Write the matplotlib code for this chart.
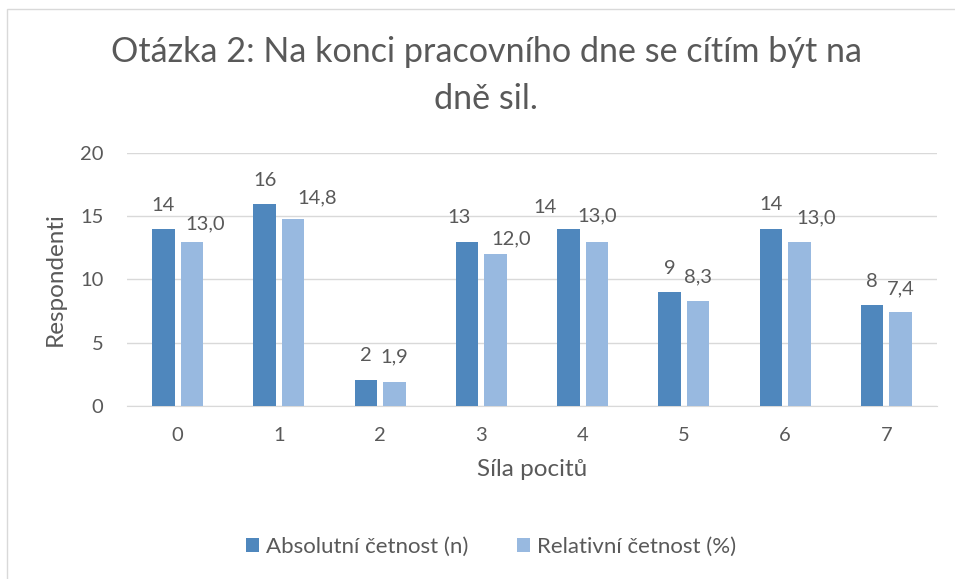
import matplotlib.pyplot as plt
import numpy as np
from matplotlib.patches import Rectangle

plt.rcParams['font.family'] = ['Lato', 'DejaVu Sans']

kategorie = ['0', '1', '2', '3', '4', '5', '6', '7']
absolutni = [14, 16, 2, 13, 14, 9, 14, 8]
relativni = [13.0, 14.8, 1.9, 12.0, 13.0, 8.3, 13.0, 7.4]

# label placement as in the original (pixels: shift right, gap above bar)
abs_dx = [0, 0, 0, -8.5, -23, 0, 0, 0]
abs_dy = [18, 18, 19, 19, 16, 18, 19, 18]
rel_dx = [13, 24, 0, 16, 0, 0, 16.5, 0]
rel_dy = [12, 16, 19, 10, 20, 19, 18, 18]

txt = '#595959'
c_abs = '#4F87BD'
c_rel = '#98B9E0'

fig = plt.figure(figsize=(9.55, 5.79), dpi=100)
fig.patches.append(Rectangle((7 / 955, -0.01), 1.0, 1 - 9 / 579 + 0.01,
                             transform=fig.transFigure, fill=False,
                             edgecolor='#D9D9D9', linewidth=1))
ax = fig.add_axes([127 / 955, 1 - 405.7 / 579, 810 / 955, 252.4 / 579])

x = np.arange(len(kategorie))
w = 0.222
off = 0.141
b1 = ax.bar(x - off, absolutni, w, color=c_abs, label='Absolutní četnost (n)', zorder=3)
b2 = ax.bar(x + off, relativni, w, color=c_rel, label='Relativní četnost (%)', zorder=3)

px = 0.72
for xi, v, dx, dy in zip(x, absolutni, abs_dx, abs_dy):
    ax.annotate(str(v), (xi - off, v), xytext=(dx * px, dy * px),
                textcoords='offset points', ha='center', va='baseline',
                fontsize=14.5, color=txt)
for xi, v, dx, dy in zip(x, relativni, rel_dx, rel_dy):
    ax.annotate(f'{v:.1f}'.replace('.', ','), (xi + off, v), xytext=(dx * px, dy * px),
                textcoords='offset points', ha='center', va='baseline',
                fontsize=14.5, color=txt)

ax.set_xlim(-0.5, 7.5)
ax.set_ylim(0, 20)
ax.set_yticks([0, 5, 10, 15, 20])
ax.set_xticks(x)
ax.set_xticklabels(kategorie)
ax.grid(axis='y', color='#D9D9D9', linewidth=1, zorder=0)
for s in ['top', 'right', 'left']:
    ax.spines[s].set_visible(False)
ax.spines['bottom'].set_color('#D9D9D9')
ax.tick_params(axis='both', length=0, labelsize=14.5, labelcolor=txt)
ax.tick_params(axis='y', pad=17)
ax.tick_params(axis='x', pad=15)

ax.set_xlabel('Síla pocitů', fontsize=17.5, color=txt, labelpad=11)
ax.set_ylabel('Respondenti', fontsize=17.5, color=txt, labelpad=10)

fig.text(0.509, 1 - 52 / 579, 'Otázka 2: Na konci pracovního dne se cítím být na',
         ha='center', va='center', fontsize=24.6, color=txt)
fig.text(0.509, 1 - 99 / 579, 'dně sil.', ha='center', va='center',
         fontsize=24.6, color=txt)

fig.legend(handles=[b1, b2], loc='center', bbox_to_anchor=(491 / 955, 1 - 547 / 579),
           ncol=2, frameon=False, fontsize=16, labelcolor=txt,
           handlelength=0.6, handleheight=0.6, handletextpad=0.3, columnspacing=2.2)

fig.savefig('out.png', dpi=100)
